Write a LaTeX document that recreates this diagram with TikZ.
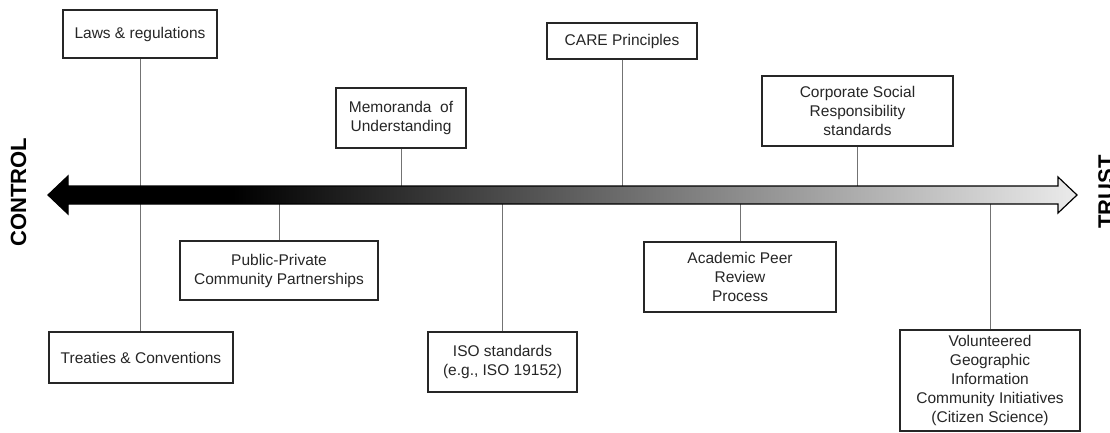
\documentclass[tikz,border=0pt]{standalone}
\usepackage{fontspec}
\setmainfont{Liberation Sans}

% shading of the control--trust axis (path spans 25bp--75bp)
\pgfdeclarehorizontalshading{axisshade}{100bp}{color(0bp)=(black); color(34bp)=(black); color(75bp)=(black!8); color(100bp)=(black!8)}

\tikzset{
  box/.style = {draw=black!85, line width=1.3pt, fill=white, align=center, inner sep=3pt,
                text=black!85, font=\fontsize{15.5}{19}\selectfont},
  stem/.style = {draw=black!55, line width=1pt},
  axislabel/.style = {font=\fontsize{22}{26}\selectfont\bfseries, inner sep=0pt}
}

\begin{document}
\begin{tikzpicture}[x=1pt, y=-1pt]
    \useasboundingbox (0,0) rectangle (1110,433);

    % Instruments along the axis
    \foreach \nm/\cx/\cy/\w/\h/\txt in {laws/140/34/154/48/{Laws \& regulations},
                                        treaties/141/357.5/184/51/{Treaties \& Conventions},
                                        memo/401/118/130/60/{Memoranda\ \ of\\Understanding},
                                        ppp/279/270.5/198/59/{Public-Private\\Community Partnerships},
                                        care/622/41/150/36/{CARE Principles},
                                        iso/502.5/362/149/60/{ISO standards\\(e.g., ISO 19152)},
                                        csr/857.5/111/191/70/{Corporate Social\\Responsibility\\standards},
                                        acad/740/277/192/70/{Academic Peer\\Review\\Process},
                                        vgi/990/380.5/180/101/{Volunteered\\Geographic\\Information\\Community Initiatives\\(Citizen Science)}}
      \node[box, minimum width=\w pt, minimum height=\h pt] (\nm) at (\cx,\cy) {\txt};

    % Edges of the shaft
    \coordinate (shafttop) at (0,186);
    \coordinate (shaftbot) at (0,204);

    % Stems
    \draw[stem] (laws.south) -- (laws.south |- treaties.north);
    \foreach \nm in {memo, care, csr}
      \draw[stem] (\nm.south) -- (\nm.south |- shafttop);
    \foreach \nm in {ppp, iso, acad, vgi}
      \draw[stem] (\nm.north) -- (\nm.north |- shaftbot);

    % Double arrow
    \draw[black, line width=1.2pt, shading=axisshade]
      (48,195) -- (68,176) -- (68,186) -- (1058,186) -- (1058,177) -- (1077,195)
      -- (1058,213) -- (1058,204) -- (68,204) -- (68,214) -- cycle;

    % Axis labels
    \node[axislabel, rotate=90] (control) at (18.5,192) {CONTROL};
    \node[axislabel, rotate=90] (trust) at (1106,192) {TRUST};
\end{tikzpicture}
\end{document}
